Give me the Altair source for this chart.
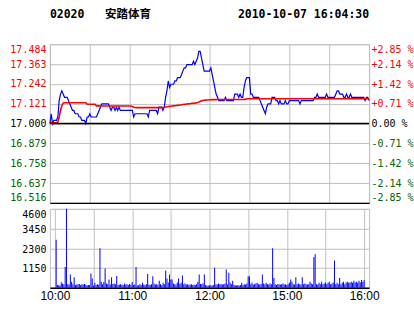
import json
import altair as alt
import pandas as pd

stock_code = "02020"
stock_name = "安踏体育"
timestamp = "2010-10-07 16:04:30"
prev_close = 17.0

# last price, one value per trading minute (0 = 10:00 ... 240 = 16:00)
price = [
    17.00, 17.06, 17.00, 17.02, 17.02, 17.02, 17.04, 17.14, 17.18, 17.20,
    17.18, 17.16, 17.16, 17.16, 17.14, 17.12, 17.10, 17.08, 17.08, 17.06,
    17.06, 17.06, 17.04, 17.04, 17.02, 17.02, 17.02, 17.00, 17.04, 17.04,
    17.06, 17.04, 17.04, 17.04, 17.04, 17.04, 17.06, 17.08, 17.10, 17.12,
    17.12, 17.12, 17.12, 17.12, 17.12, 17.10, 17.08, 17.10, 17.10, 17.08,
    17.10, 17.08, 17.10, 17.08, 17.08, 17.08, 17.08, 17.08, 17.08, 17.08,
    17.08, 17.08, 17.08, 17.04, 17.06, 17.06, 17.06, 17.06, 17.06, 17.06,
    17.06, 17.06, 17.06, 17.06, 17.04, 17.08, 17.08, 17.08, 17.08, 17.08,
    17.08, 17.06, 17.10, 17.10, 17.10, 17.08, 17.10, 17.16, 17.20, 17.26,
    17.22, 17.24, 17.24, 17.24, 17.26, 17.26, 17.28, 17.28, 17.28, 17.30,
    17.32, 17.34, 17.34, 17.36, 17.36, 17.36, 17.36, 17.36, 17.38, 17.36,
    17.38, 17.40, 17.44, 17.44, 17.40, 17.36, 17.32, 17.32, 17.32, 17.32,
    17.32, 17.34, 17.30, 17.26, 17.22, 17.18, 17.16, 17.14, 17.14, 17.14,
    17.14, 17.14, 17.16, 17.14, 17.14, 17.14, 17.14, 17.14, 17.14, 17.18,
    17.18, 17.18, 17.16, 17.18, 17.16, 17.16, 17.22, 17.26, 17.28, 17.28,
    17.28, 17.18, 17.18, 17.16, 17.16, 17.16, 17.16, 17.16, 17.14, 17.12,
    17.10, 17.08, 17.06, 17.10, 17.12, 17.12, 17.12, 17.16, 17.16, 17.16,
    17.14, 17.14, 17.12, 17.14, 17.12, 17.12, 17.12, 17.14, 17.12, 17.12,
    17.14, 17.14, 17.14, 17.14, 17.14, 17.14, 17.14, 17.14, 17.12, 17.14,
    17.14, 17.14, 17.14, 17.14, 17.14, 17.14, 17.14, 17.14, 17.14, 17.16,
    17.16, 17.18, 17.16, 17.16, 17.16, 17.16, 17.16, 17.16, 17.18, 17.16,
    17.16, 17.16, 17.16, 17.16, 17.16, 17.18, 17.20, 17.20, 17.18, 17.18,
    17.18, 17.16, 17.16, 17.18, 17.16, 17.16, 17.18, 17.16, 17.16, 17.16,
    17.16, 17.16, 17.16, 17.16, 17.16, 17.16, 17.16, 17.14, 17.16, 17.16,
    17.14,
]

# running average price, one value per trading minute
avg_price = [
    17.005, 17.005, 17.005, 17.005, 17.005, 17.005, 17.010, 17.040, 17.080, 17.110,
    17.125, 17.127, 17.127, 17.127, 17.127, 17.127, 17.127, 17.127, 17.127, 17.127,
    17.127, 17.127, 17.127, 17.127, 17.127, 17.127, 17.127, 17.127, 17.118, 17.118,
    17.118, 17.118, 17.118, 17.118, 17.118, 17.108, 17.108, 17.108, 17.107, 17.107,
    17.107, 17.107, 17.107, 17.107, 17.107, 17.107, 17.107, 17.107, 17.107, 17.107,
    17.107, 17.107, 17.107, 17.107, 17.107, 17.107, 17.107, 17.107, 17.107, 17.107,
    17.107, 17.106, 17.104, 17.100, 17.098, 17.097, 17.097, 17.097, 17.097, 17.097,
    17.097, 17.097, 17.097, 17.097, 17.097, 17.097, 17.097, 17.097, 17.097, 17.097,
    17.097, 17.097, 17.097, 17.097, 17.097, 17.097, 17.099, 17.101, 17.103, 17.104,
    17.105, 17.106, 17.107, 17.108, 17.109, 17.110, 17.111, 17.112, 17.113, 17.115,
    17.116, 17.117, 17.118, 17.119, 17.120, 17.121, 17.122, 17.123, 17.124, 17.125,
    17.126, 17.128, 17.131, 17.135, 17.139, 17.141, 17.142, 17.143, 17.144, 17.144,
    17.145, 17.145, 17.146, 17.146, 17.146, 17.146, 17.147, 17.147, 17.147, 17.147,
    17.147, 17.147, 17.147, 17.147, 17.147, 17.147, 17.147, 17.147, 17.147, 17.147,
    17.147, 17.147, 17.147, 17.147, 17.147, 17.147, 17.147, 17.149, 17.150, 17.151,
    17.151, 17.151, 17.151, 17.151, 17.151, 17.151, 17.151, 17.151, 17.151, 17.151,
    17.151, 17.151, 17.151, 17.151, 17.151, 17.151, 17.151, 17.151, 17.151, 17.151,
    17.151, 17.151, 17.151, 17.151, 17.151, 17.151, 17.151, 17.151, 17.151, 17.151,
    17.151, 17.151, 17.151, 17.151, 17.151, 17.151, 17.151, 17.151, 17.151, 17.151,
    17.151, 17.151, 17.151, 17.151, 17.151, 17.151, 17.151, 17.151, 17.151, 17.151,
    17.151, 17.151, 17.151, 17.151, 17.151, 17.151, 17.151, 17.151, 17.151, 17.151,
    17.151, 17.151, 17.151, 17.151, 17.151, 17.151, 17.151, 17.151, 17.151, 17.151,
    17.151, 17.151, 17.151, 17.151, 17.151, 17.151, 17.151, 17.151, 17.151, 17.151,
    17.151, 17.151, 17.151, 17.151, 17.151, 17.151, 17.151, 17.151, 17.151, 17.151,
    17.151,
]

# volume per minute (minutes 1 .. 240)
volume = [
    2800, 150, 140, 130, 310, 230, 200, 1200, 4600, 200,
    180, 770, 350, 200, 610, 150, 180, 200, 220, 150,
    200, 180, 210, 170, 140, 150, 160, 830, 530, 120,
    280, 150, 200, 170, 2300, 350, 200, 330, 1120, 240,
    200, 480, 180, 610, 220, 250, 200, 680, 150, 180,
    200, 170, 150, 250, 180, 200, 150, 220, 170, 330,
    150, 180, 1200, 120, 140, 200, 150, 290, 180, 150,
    200, 800, 180, 150, 200, 670, 250, 180, 200, 150,
    410, 200, 150, 290, 200, 1000, 530, 300, 770, 470,
    470, 250, 200, 180, 300, 530, 220, 290, 710, 200,
    250, 180, 200, 150, 180, 200, 160, 180, 150, 200,
    350, 770, 220, 200, 250, 770, 150, 120, 130, 120,
    140, 120, 150, 1160, 200, 180, 250, 200, 220, 180,
    200, 250, 1060, 180, 870, 300, 200, 410, 150, 140,
    120, 150, 130, 160, 290, 150, 200, 180, 250, 670,
    650, 200, 300, 180, 200, 250, 290, 200, 180, 220,
    770, 250, 200, 290, 200, 180, 250, 200, 2300, 570,
    200, 150, 220, 200, 180, 200, 250, 180, 200, 150,
    200, 280, 470, 350, 200, 180, 610, 200, 250, 200,
    180, 610, 200, 250, 200, 180, 200, 350, 250, 200,
    1790, 1950, 200, 180, 280, 200, 350, 200, 250, 300,
    200, 280, 350, 200, 250, 300, 1590, 200, 280, 200,
    570, 200, 280, 350, 200, 300, 350, 280, 300, 350,
    280, 400, 300, 350, 280, 400, 300, 450, 350, 450,
]

price_ticks = [17.484, 17.363, 17.242, 17.121, 17.000, 16.879, 16.758, 16.637, 16.516]
pct_ticks = [2.85, 2.14, 1.42, 0.71, 0.0, -0.71, -1.42, -2.14, -2.85]
vol_ticks = [4600, 3450, 2300, 1150]
time_ticks = [0, 30, 60, 90, 120, 150, 180, 210, 240]
time_labels = ["10:00", "11:00", "12:00", "15:00", "16:00"]

GRID = "#c0c0c0"
RED = "#ff0000"
GREEN = "#006400"
BLUE = "#0000ff"
NBSP = "\u00a0"

pdf = pd.DataFrame({"minute": list(range(len(price))), "price": price, "avg": avg_price})
pdf["pct"] = (pdf["price"] - prev_close) / prev_close * 100
vdf = pd.DataFrame({"minute": list(range(1, len(volume) + 1)), "vol": volume})
refdf = pd.DataFrame({"price": [prev_close]})

x_scale = alt.Scale(domain=[0, 240], nice=False, zero=False)
p_scale = alt.Scale(domain=[min(price_ticks), max(price_ticks)], nice=False, zero=False)
pct_scale = alt.Scale(domain=[min(pct_ticks), max(pct_ticks)], nice=False, zero=False)

x_top_axis = alt.Axis(values=time_ticks, labels=False, ticks=False, domain=True,
                      domainColor="black", domainWidth=1.5, grid=True, title=None)

left_axis = alt.Axis(
    values=price_ticks, format=".3f", title=None, ticks=False, domain=False,
    labelPadding=4, grid=True, labelFlush=True,
    labelColor={"expr": f"datum.value > {prev_close + 0.0005} ? '{RED}' : (datum.value < {prev_close - 0.0005} ? '{GREEN}' : 'black')"},
)
right_axis = alt.Axis(
    orient="right", values=pct_ticks, title=None, ticks=False, domain=False, grid=False,
    labelPadding=2, labelFlush=True,
    labelExpr="(datum.value > 0.001 ? '+' : (datum.value < -0.001 ? '-' : '" + NBSP + "')) + format(abs(datum.value), '.2f') + ' %'",
    labelColor={"expr": f"datum.value > 0.001 ? '{RED}' : (datum.value < -0.001 ? '{GREEN}' : 'black')"},
)

base = alt.Chart(pdf).encode(x=alt.X("minute:Q", scale=x_scale, axis=x_top_axis))
blue_line = base.mark_line(color=BLUE, strokeWidth=1.2).encode(
    y=alt.Y("price:Q", scale=p_scale, axis=left_axis))
red_line = base.mark_line(color=RED, strokeWidth=1.6).encode(
    y=alt.Y("avg:Q", scale=p_scale, axis=left_axis))
ref_rule = alt.Chart(refdf).mark_rule(color="black", strokeWidth=1.5).encode(
    y=alt.Y("price:Q", scale=p_scale, axis=left_axis))
pct_line = base.mark_line(opacity=0).encode(
    y=alt.Y("pct:Q", scale=pct_scale, axis=right_axis))

price_chart = alt.layer(
    alt.layer(blue_line, red_line, ref_rule), pct_line
).resolve_scale(y="independent").properties(
    width=320, height=159,
    title=alt.TitleParams(
        text=stock_code + NBSP * 3 + stock_name, anchor="start", frame="group",
        font="DejaVu Sans Mono, Noto Sans CJK SC", fontSize=11.5, fontWeight="bold",
        color="black", baseline="alphabetic", offset=15,
    ),
)

label_expr = "datum.value % 60 == 0 ? " + json.dumps(time_labels) + "[datum.value / 60] : ''"
bottom_axis = alt.Axis(
    values=time_ticks, labelExpr=label_expr, ticks=False, domain=True, domainColor="black",
    domainWidth=1.5, grid=True, title=None, labelFont="Liberation Sans", labelFontSize=12,
    labelPadding=3, labelColor="black", labelFlush=False,
)
vol_axis = alt.Axis(values=vol_ticks, format="d", title=None, ticks=False, domain=False,
                    grid=True, labelPadding=4, labelColor="black", labelFlush=True,
                    labelOffset=1)

vol_chart = alt.Chart(vdf).mark_bar(color=BLUE, size=1).encode(
    x=alt.X("minute:Q", scale=x_scale, axis=bottom_axis),
    y=alt.Y("vol:Q", scale=alt.Scale(domain=[0, 4600], nice=False), axis=vol_axis),
).properties(width=320, height=79)

chart = alt.vconcat(price_chart, vol_chart, spacing=6, bounds="flush").properties(
    title=alt.TitleParams(
        text=timestamp, anchor="end", frame="group",
        font="DejaVu Sans Mono", fontSize=11.5, fontWeight="bold", color="black",
        baseline="alphabetic", offset=23, dy=44,
    ),
    padding={"left": 9, "top": 8, "right": 0, "bottom": 0},
    background="white",
).configure_view(stroke=GRID, strokeWidth=1).configure_axis(
    gridColor=GRID, gridWidth=1, labelFont="DejaVu Sans Mono", labelFontSize=10,
    labelOverlap=False, labelBound=False,
)

chart.save("out.html", embed_options={"renderer": "svg", "actions": False})
